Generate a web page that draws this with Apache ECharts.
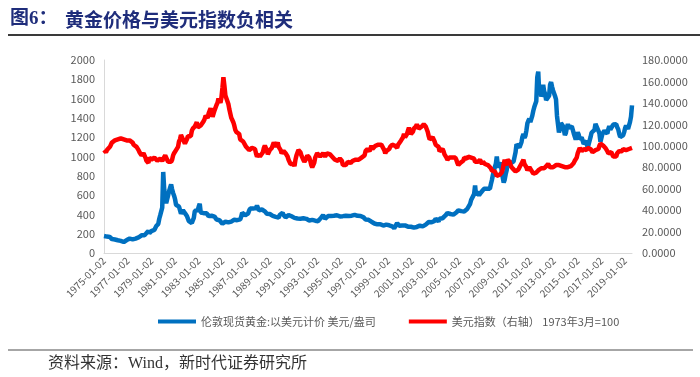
<!DOCTYPE html>
<html>
<head>
<meta charset="utf-8">
<script src="https://cdn.jsdelivr.net/npm/echarts@6/dist/echarts.min.js"></script>
<style>
html,body{margin:0;padding:0;background:#fff;}
#chart{width:700px;height:377px;}
</style>
</head>
<body>
<div id="chart"></div>
<script>
// 月度数据 1975-01 ~ 2019-08
var startYear = 1975, endYear = 2019, endMonth = 8;

// 伦敦现货黄金 美元/盎司
var gold = [
  176,180,178,170,167,164,166,160,144,143,142,140, // 1975
  132,131,132,128,126,126,118,108,114,117,130,134, // 1976
  133,142,149,149,147,141,143,145,149,158,162,161, // 1977
  174,178,183,175,177,183,189,206,212,228,206,208, // 1978
  227,245,242,239,257,279,295,301,355,392,392,470, // 1979
  840,660,553,517,514,600,644,627,710,661,623,594, // 1980
  557,500,499,495,480,461,409,410,444,437,413,410, // 1981
  384,374,330,350,334,310,339,364,435,423,415,444, // 1982
  481,510,420,432,438,413,422,416,411,394,382,388, // 1983
  370,386,394,381,377,378,347,347,341,340,341,320, // 1984
  303,290,304,325,316,317,317,330,323,326,325,322, // 1985
  345,339,345,340,342,342,348,376,418,423,398,391, // 1986
  408,401,408,438,460,449,450,460,460,465,467,490, // 1987
  477,442,443,452,451,452,437,432,413,407,420,419, // 1988
  404,388,391,385,371,367,375,366,362,367,394,409, // 1989
  410,417,393,374,369,352,362,394,388,381,381,378, // 1990
  383,364,363,358,357,367,368,356,348,358,360,361, // 1991
  354,354,345,338,337,341,353,343,345,344,335,334, // 1992
  329,330,330,342,367,372,392,378,355,364,374,383, // 1993
  387,382,384,377,381,386,385,380,391,389,384,379, // 1994
  379,376,382,391,385,387,386,383,383,383,386,387, // 1995
  400,405,396,393,392,385,383,387,383,381,378,369, // 1996
  355,347,352,344,344,341,324,324,323,325,306,289, // 1997
  289,297,296,308,299,292,293,284,289,296,294,291, // 1998
  287,287,286,282,277,262,256,257,265,311,293,283, // 1999
  284,300,286,280,275,286,282,274,273,270,266,272, // 2000
  266,262,263,261,272,270,268,273,283,283,276,276, // 2001
  282,296,294,302,314,321,314,310,319,317,319,333, // 2002
  357,359,340,328,355,356,351,360,379,379,389,407, // 2003
  414,405,406,404,384,392,398,400,406,420,439,442, // 2004
  424,423,434,429,422,431,424,438,456,470,476,510, // 2005
  549,555,557,610,700,596,633,632,598,585,627,629, // 2006
  631,665,655,679,667,655,665,665,712,754,806,803, // 2007
  889,923,1000,909,888,889,939,839,829,730,760,816, // 2008
  858,943,924,890,928,946,934,949,996,1043,1127,1134, // 2009
  1117,1095,1113,1148,1205,1232,1193,1215,1271,1343,1370,1391, // 2010
  1356,1372,1424,1474,1512,1529,1572,1820,1880,1660,1740,1620, // 2011
  1656,1743,1674,1650,1585,1596,1594,1630,1744,1770,1722,1685, // 2012
  1671,1627,1593,1420,1414,1250,1286,1347,1349,1316,1276,1222, // 2013
  1244,1300,1336,1299,1287,1279,1311,1296,1239,1222,1176,1202, // 2014
  1251,1227,1178,1198,1199,1181,1131,1117,1125,1159,1086,1068, // 2015
  1097,1200,1246,1242,1260,1276,1337,1341,1326,1266,1238,1152, // 2016
  1192,1234,1231,1266,1246,1260,1237,1283,1315,1280,1283,1265, // 2017
  1331,1331,1325,1335,1303,1282,1238,1202,1199,1215,1220,1250, // 2018
  1292,1320,1301,1286,1284,1359,1413,1530                      // 2019
];

// 美元指数（右轴） 1973年3月=100
var dxy = [
  96,95,94,96,95,96,99,101,103,103,104,105, // 1975
  105,105,106,106,107,107,107,107,106,106,105,105, // 1976
  105,105,105,104,104,103,101,102,101,99,98,96, // 1977
  94,93,91,91,93,92,89,86,86,84,89,88, // 1978
  87,88,88,89,90,88,86,87,85,88,87,86, // 1979
  85,86,91,91,87,85,84,85,85,87,91,93, // 1980
  92,96,96,99,104,106,110,110,106,105,102,102, // 1981
  106,109,110,110,109,114,116,117,118,120,122,117, // 1982
  116,118,119,120,120,123,125,128,127,126,130,131, // 1983
  135,131,127,130,133,133,138,140,144,144,140,145, // 1984
  154,164,156,147,147,146,139,134,133,126,124,122, // 1985
  119,115,113,112,112,111,106,106,105,104,104,103, // 1986
  99,98,98,96,96,97,98,97,97,97,93,90, // 1987
  90,92,90,90,91,94,98,100,98,96,92,93, // 1988
  96,96,98,98,103,104,99,101,103,99,98,96, // 1989
  93,92,95,95,93,93,90,87,86,83,82,83, // 1990
  83,81,87,91,92,96,95,94,91,90,87,85, // 1991
  86,88,91,91,89,86,82,80,80,84,89,90, // 1992
  93,93,92,90,89,90,93,93,90,91,93,93, // 1993
  94,92,91,90,90,89,87,88,87,86,87,88, // 1994
  87,86,82,81,83,82,82,85,86,85,84,85, // 1995
  86,86,86,87,88,88,87,87,88,89,88,89, // 1996
  91,95,95,97,96,95,97,100,97,97,98,100, // 1997
  101,100,101,100,100,101,101,101,96,93,95,94, // 1998
  95,97,99,100,101,102,102,100,99,98,101,101, // 1999
  102,105,106,108,111,108,109,111,114,117,116,111, // 2000
  111,113,116,117,118,120,121,116,115,117,118,118, // 2001
  120,119,118,117,113,109,106,107,107,108,106,104, // 2002
  101,100,100,99,95,95,96,97,95,92,92,89, // 2003
  87,87,89,90,90,89,88,89,89,87,84,82, // 2004
  83,84,83,84,86,89,90,88,88,90,91,91, // 2005
  89,90,90,88,85,86,86,85,86,87,85,83, // 2006
  85,84,83,82,82,82,81,81,79,77,76,76, // 2007
  76,75,72,73,73,73,72,75,78,83,87,82, // 2008
  84,87,87,85,82,80,79,78,77,76,75,76, // 2009
  78,80,81,81,85,87,83,82,80,77,78,80, // 2010
  79,77,76,74,75,75,75,74,77,77,78,79, // 2011
  80,79,79,79,81,82,83,82,80,80,80,80, // 2012
  80,80,82,82,83,82,83,82,81,80,80,80, // 2013
  81,80,80,80,80,81,81,82,84,86,87,89, // 2014
  93,94,98,97,95,96,97,96,96,96,98,98, // 2015
  99,97,96,94,95,95,96,95,95,97,100,102, // 2016
  101,101,100,99,98,97,95,93,92,94,94,93, // 2017
  90,89,90,90,93,94,95,95,94,95,97,97, // 2018
  96,96,97,97,97,97,97,98 // 2019
];

var dates = [];
for (var y = startYear; y <= endYear; y++) {
  for (var m = 1; m <= 12; m++) {
    if (y == endYear && m > endMonth) break;
    dates.push(y + '-' + (m < 10 ? '0' + m : m) + '-02');
  }
}

var myChart = echarts.init(document.getElementById('chart'), null, {renderer: 'canvas'});
var option = {
  backgroundColor: '#fff',
  animation: false,
  textStyle: {fontFamily: 'Noto Sans CJK SC'},
  graphic: [
    {type: 'text', left: 10, top: 10, style: {text: '图6：', font: 'bold 19px "Liberation Serif","Noto Sans CJK SC"', fill: '#1f2d7b'}},
    {type: 'text', left: 65, top: 10, style: {text: '黄金价格与美元指数负相关', font: 'bold 19px "Noto Sans CJK SC"', fill: '#1f2d7b'}},
    {type: 'rect', shape: {x: 8, y: 34, width: 692, height: 2}, style: {fill: '#3a3a3a'}},
    {type: 'rect', shape: {x: 8, y: 349, width: 685, height: 2}, style: {fill: '#a6a6a6'}},
    {type: 'text', left: 48, top: 356, style: {text: '资料来源：Wind，新时代证券研究所', font: '16px "Liberation Serif","Noto Sans CJK SC"', fill: '#333'}}
  ],
  legend: {
    left: 153,
    top: 311,
    itemWidth: 38,
    itemHeight: 4,
    itemGap: 33,
    icon: 'rect',
    textStyle: {fontSize: 11, color: '#595959'},
    data: ['伦敦现货黄金:以美元计价 美元/盎司', '美元指数（右轴） 1973年3月=100']
  },
  grid: {left: 104, right: 68, top: 60, bottom: 124},
  xAxis: {
    type: 'category',
    boundaryGap: false,
    data: dates,
    axisLine: {lineStyle: {color: '#d9d9d9'}},
    axisTick: {show: false},
    axisLabel: {
      interval: function (i) { return i % 24 === 0; },
      rotate: 45,
      fontSize: 10,
      color: '#595959',
      margin: 6
    },
    splitLine: {show: false}
  },
  yAxis: [
    {
      type: 'value', min: 0, max: 2000, interval: 200,
      axisLine: {show: true, lineStyle: {color: '#d9d9d9'}},
      axisTick: {show: false},
      axisLabel: {fontSize: 11, color: '#595959', margin: 9, formatter: function (v) { return String(v); }},
      splitLine: {show: false}
    },
    {
      type: 'value', min: 0, max: 180, interval: 20,
      axisLine: {show: false},
      axisTick: {show: false},
      axisLabel: {fontSize: 11, color: '#595959', margin: 10, formatter: function (v) { return v.toFixed(4); }},
      splitLine: {show: false}
    }
  ],
  series: [
    {
      name: '伦敦现货黄金:以美元计价 美元/盎司',
      type: 'line',
      yAxisIndex: 0,
      symbol: 'none',
      itemStyle: {color: '#0070c0'},
      lineStyle: {color: '#0070c0', width: 4.5},
      data: gold
    },
    {
      name: '美元指数（右轴） 1973年3月=100',
      type: 'line',
      yAxisIndex: 1,
      symbol: 'none',
      itemStyle: {color: '#ff0000'},
      lineStyle: {color: '#ff0000', width: 4.5},
      data: dxy
    }
  ]
};
myChart.setOption(option);
</script>
</body>
</html>
